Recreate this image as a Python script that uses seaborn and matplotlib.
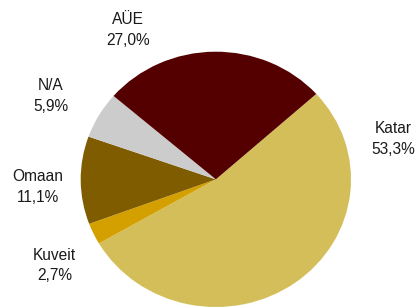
import matplotlib
matplotlib.use("Agg")
import matplotlib.pyplot as plt
import seaborn as sns

sns.set_theme(style="white")
plt.rcParams['font.family'] = ['Liberation Sans', 'DejaVu Sans']

categories = ["Katar", "Kuveit", "Omaan", "N/A", "AÜE"]
values = [53.3, 2.7, 11.1, 5.9, 27.0]
value_labels = ["53,3%", "2,7%", "11,1%", "5,9%", "27,0%"]
colors = ["#D4BE5A", "#D4A000", "#7F5C00", "#CCCCCC", "#550000"]
label_pos = [(1.315, 0.317), (-1.193, -0.677), (-1.319, -0.059), (-1.222, 0.654), (-0.652, 1.171)]

W, H = 417, 308
fig = plt.figure(figsize=(W / 100, H / 100), dpi=100)
left, right, top, bottom = 80.7, 351.0, 51.7, 307.0
ax = fig.add_axes([left / W, (H - bottom) / H, (right - left) / W, (bottom - top) / H])

ax.pie(values, colors=colors, startangle=42, counterclock=False,
       wedgeprops=dict(linewidth=0, antialiased=True))
ax.set_aspect('auto')
ax.set_xlim(-1, 1)
ax.set_ylim(-1, 1)
ax.axis('off')

for cat, lab, (x, y) in zip(categories, value_labels, label_pos):
    ax.text(x, y, f"{cat}\n{lab}", ha='center', va='center', fontsize=11.2,
            color='#1a1a1a', linespacing=1.45, clip_on=False)

fig.savefig("out.png", dpi=100)
